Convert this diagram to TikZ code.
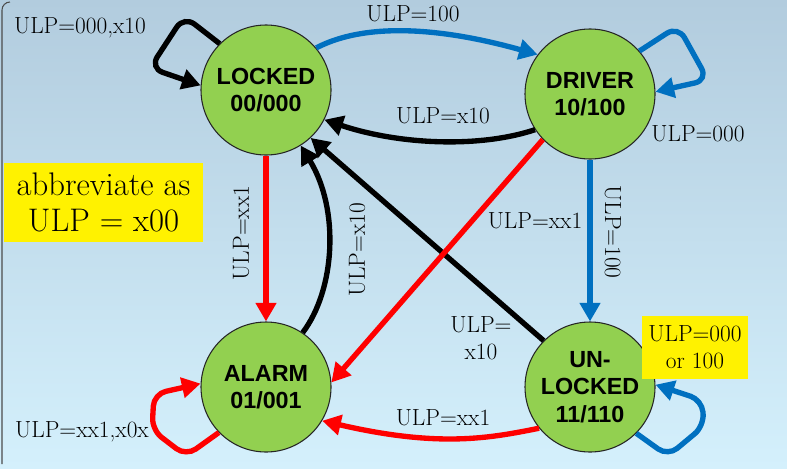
\documentclass[tikz,border=0pt]{standalone}
\usepackage{fontspec}
\newfontfamily\nodefont{Liberation Sans}
\usetikzlibrary{arrows.meta}
\definecolor{stategreen}{RGB}{146,208,80}
\definecolor{ublue}{RGB}{0,112,192}
\definecolor{ured}{RGB}{255,0,0}
\definecolor{bgtop}{RGB}{178,204,222}
\definecolor{bgbot}{RGB}{212,240,252}
\begin{document}
\begin{tikzpicture}[x=0.75pt,y=-0.75pt,
  state/.style={circle, draw=black!85, line width=0.8pt, fill=stategreen,
    minimum size=97.5pt, inner sep=0pt, align=center,
    font=\nodefont\bfseries\fontsize{17.5}{20.6}\selectfont},
  lbl/.style={font=\fontsize{17.5}{20.5}\selectfont, inner sep=0pt, align=center},
  arr/.style={line width=4pt, -{Triangle[length=14pt,width=15pt]}},
  blk/.style={arr, draw=black},
  blu/.style={arr, draw=ublue},
  rd/.style={arr, draw=ured},
  note/.style={fill=yellow, inner sep=0pt, align=center}]
\useasboundingbox (0,0) rectangle (787,468);
\shade[top color=bgtop, bottom color=bgbot] (0,0) rectangle (787,468);
\draw[black!70, line width=0.8pt] (2,464) -- (2,10) arc[start angle=180, end angle=90, radius=6pt];

% states
\node[state] (lock) at (266,90) {LOCKED\\00/000};
\node[state] (drive) at (590,94) {DRIVER\\10/100};
\node[state] (alarm) at (266,387) {ALARM\\01/001};
\node[state] (unl) at (590,387) {UN-\\LOCKED\\11/110};

% notes
\node[note, minimum width=149.25pt, minimum height=59.25pt,
  font=\fontsize{24.5}{26.5}\selectfont] (abbr) at (103.5,202.5) {abbreviate as\\ULP = x00};
\node[note, minimum width=79.5pt, minimum height=47.25pt,
  font=\fontsize{17.5}{20.5}\selectfont] (unote) at (695,347.5) {ULP=000\\or 100};

% self loops
\draw[blk, rounded corners=10pt] (lock.135) -- (184,16) -- (150,68) -- (lock.176);
\draw[blu, rounded corners=10pt] (drive.41) -- (678,26) -- (708,80) -- (drive.2);
\draw[rd, rounded corners=9pt] (alarm.224) -- (186,456) -- (152,430) -- (154,394) -- (alarm.177);
\draw[blu, rounded corners=9pt] (unl.-45) -- (668,456) -- (704,426) -- (702,400) -- (unl.2);

% transitions
\draw[blu] (lock.40) .. controls (370,20) and (450,30) .. (drive.143);
\draw[blk] (drive.213) .. controls (480,148) and (400,145) .. (lock.-27);
\draw[rd] (lock.south) -- (alarm.north);
\draw[blk] (alarm.56) .. controls (335,290) and (340,210) .. (lock.-58);
\draw[blk] (unl.135) -- (lock.-47);
\draw[rd] (drive.224) -- (alarm.4);
\draw[blu] (drive.south) -- (unl.north);
\draw[rd] (unl.219) .. controls (490,438) and (440,448) .. (alarm.-31);

% labels
\node[lbl] (l1) at (80,28) {ULP=000,x10};
\node[lbl] (l2) at (413,14) {ULP=100};
\node[lbl] (l3) at (443,116) {ULP=x10};
\node[lbl] (l4) at (698,134) {ULP=000};
\node[lbl, rotate=90] (l5) at (241,233) {ULP=xx1};
\node[lbl, rotate=90] (l6) at (357,250) {ULP=x10};
\node[lbl] (l7) at (535,221) {ULP=xx1};
\node[lbl, rotate=-90] (l8) at (613,232) {ULP=100};
\node[lbl] (l9) at (481,338) {ULP=\\x10};
\node[lbl] (l10) at (443,418) {ULP=xx1};
\node[lbl] (l11) at (82,432) {ULP=xx1,x0x};
\end{tikzpicture}
\end{document}
